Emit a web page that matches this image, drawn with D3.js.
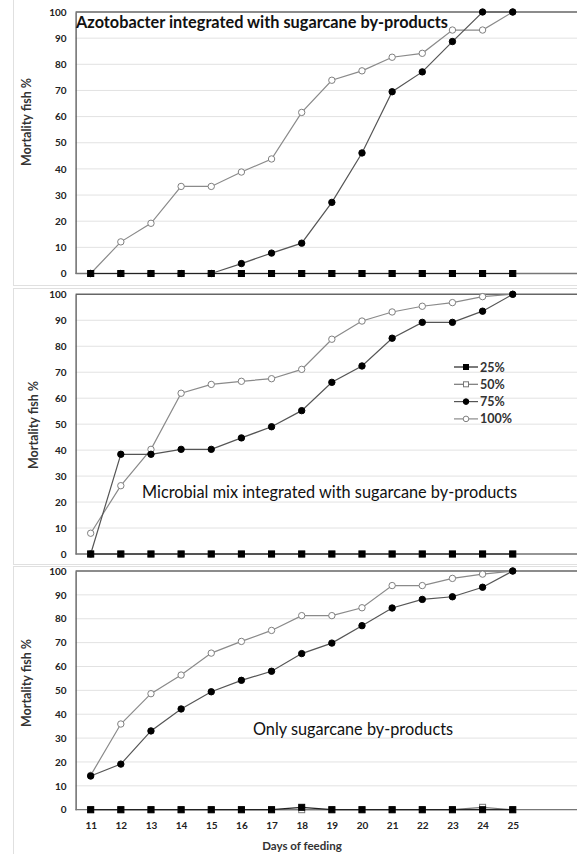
<!DOCTYPE html>
<html>
<head>
<meta charset="utf-8">
<script src="https://cdn.jsdelivr.net/npm/d3@7"></script>
<style>
  body { margin: 0; background: #fff; }
  svg { display: block; }
  .tick text { font-family: Lato, "Liberation Sans", sans-serif; font-weight: bold; font-size: 10px; fill: #222; }
</style>
</head>
<body>
<svg id="chart"></svg>
<script>

// days on the x axis
var days = [11, 12, 13, 14, 15, 16, 17, 18, 19, 20, 21, 22, 23, 24, 25];
var yTicks = [0, 10, 20, 30, 40, 50, 60, 70, 80, 90, 100];
var seriesNames = ["25%", "50%", "75%", "100%"];

// Azotobacter integrated with sugarcane by-products
var azo25  = [0, 0, 0, 0, 0, 0, 0, 0, 0, 0, 0, 0, 0, 0, 0];
var azo50  = [0, 0, 0, 0, 0, 0, 0, 0, 0, 0, 0, 0, 0, 0, 0];
var azo75  = [0, 0, 0, 0, 0, 3.8, 7.8, 11.6, 27.2, 46.1, 69.5, 77.1, 88.7, 100, 100];
var azo100 = [0, 12.1, 19.2, 33.3, 33.3, 38.8, 43.8, 61.6, 73.9, 77.5, 82.7, 84.2, 93.1, 93.1, 100];

// Microbial mix integrated with sugarcane by-products
var mix25  = [0, 0, 0, 0, 0, 0, 0, 0, 0, 0, 0, 0, 0, 0, 0];
var mix50  = [0, 0, 0, 0, 0, 0, 0, 0, 0, 0, 0, 0, 0, 0, 0];
var mix75  = [0, 38.4, 38.4, 40.3, 40.3, 44.7, 49.0, 55.2, 66.1, 72.4, 83.1, 89.2, 89.2, 93.5, 100];
var mix100 = [8.0, 26.3, 40.3, 61.9, 65.3, 66.5, 67.5, 71.1, 82.7, 89.7, 93.2, 95.4, 96.8, 99.1, 100];

// Only sugarcane by-products
var only25  = [0, 0, 0, 0, 0, 0, 0, 1, 0, 0, 0, 0, 0, 0, 0];
var only50  = [0, 0, 0, 0, 0, 0, 0, 0, 0, 0, 0, 0, 0, 1, 0];
var only75  = [14.1, 19.1, 33.0, 42.2, 49.4, 54.2, 58.0, 65.4, 69.8, 77.1, 84.5, 88.1, 89.2, 93.2, 100];
var only100 = [14.4, 35.9, 48.6, 56.4, 65.6, 70.5, 75.1, 81.3, 81.3, 84.6, 93.9, 93.9, 96.9, 98.7, 100];

var titles = ["Azotobacter integrated with sugarcane by-products",
              "Microbial mix integrated with sugarcane by-products",
              "Only sugarcane by-products"];

var W = 577, H = 854;
var svg = d3.select("#chart").attr("width", W).attr("height", H);

var x = d3.scaleLinear().domain([10.5, 25.5]).range([75.6, 527.8]);

// layout of the three stacked panels
var panels = [
  {top: 12,  bottom: 273.5, data: [azo25, azo50, azo75, azo100],
   title: {x: 76, y: 28, anchor: "start"}, ytitle: {x: 31, y: 122}, boxTop: -1, boxBottom: 285},
  {top: 294.3, bottom: 554, data: [mix25, mix50, mix75, mix100],
   title: {x: 517, y: 498, anchor: "end"}, ytitle: {x: 38, y: 425}, boxTop: 288, boxBottom: 564},
  {top: 571, bottom: 809.7, data: [only25, only50, only75, only100],
   title: {x: 353, y: 735, anchor: "middle"}, ytitle: {x: 31, y: 683}, boxTop: 566, boxBottom: 860}
];

var styles = [
  {line: "#222", shape: "square", fill: "#000", stroke: "#000"},
  {line: "#777", shape: "square", fill: "#fff", stroke: "#777"},
  {line: "#555", shape: "circle", fill: "#000", stroke: "#000"},
  {line: "#8a8a8a", shape: "circle", fill: "#fff", stroke: "#808080"}
];

panels.forEach(function (p, pi) {
  var g = svg.append("g");

  // chart area frame
  g.append("rect")
    .attr("x", 13.5).attr("y", p.boxTop + 0.5)
    .attr("width", W).attr("height", p.boxBottom - p.boxTop)
    .attr("fill", "#fff").attr("stroke", "#e0e0e0");

  var y = d3.scaleLinear().domain([0, 100]).range([p.bottom, p.top]);

  // gridlines
  g.append("g").selectAll("line").data(yTicks).enter().append("line")
    .attr("x1", x.range()[0]).attr("x2", W)
    .attr("y1", function (d) { return y(d); }).attr("y2", function (d) { return y(d); })
    .attr("stroke", function (d) { return d == 100 ? "#666" : "#e2e2e2"; })
    .attr("stroke-width", function (d) { return d == 100 ? 1.4 : 1; });

  var yAxis = g.append("g")
    .attr("transform", "translate(" + x.range()[0] + ",0)")
    .call(d3.axisLeft(y).tickValues(yTicks).tickSize(0).tickPadding(9));
  yAxis.select(".domain").attr("stroke", "#555").attr("stroke-width", 1.3);

  // x axis line
  g.append("line")
    .attr("x1", x.range()[0]).attr("x2", W)
    .attr("y1", y(0)).attr("y2", y(0))
    .attr("stroke", "#777").attr("stroke-width", 1.3);

  if (pi == 2) {
    var xAxis = g.append("g")
      .attr("transform", "translate(0," + y(0) + ")")
      .call(d3.axisBottom(x).tickValues(days).tickFormat(d3.format("d")).tickSize(0).tickPadding(12));
    xAxis.select(".domain").remove();

    g.append("text")
      .attr("x", 302).attr("y", 850)
      .attr("text-anchor", "middle")
      .style("font-family", "Lato, 'Liberation Sans', sans-serif")
      .style("font-weight", "bold").style("font-size", "11.5px").style("fill", "#333")
      .text("Days of feeding");
  }

  // y title
  g.append("text")
    .attr("transform", "translate(" + p.ytitle.x + "," + p.ytitle.y + ") rotate(-90)")
    .attr("text-anchor", "middle")
    .style("font-family", "Lato, 'Liberation Sans', sans-serif")
    .style("font-weight", "bold").style("font-size", "12.5px").style("fill", "#333")
    .text("Mortality fish %");

  // series: draw 100% first so squares end up on top
  var order = [3, 2, 1, 0];
  order.forEach(function (si) {
    var vals = p.data[si];
    var st = styles[si];
    var line = d3.line()
      .x(function (d, i) { return x(days[i]); })
      .y(function (d) { return y(d); });
    g.append("path").datum(vals)
      .attr("d", line).attr("fill", "none")
      .attr("stroke", st.line).attr("stroke-width", 1.2);

    if (st.shape == "circle") {
      g.append("g").selectAll("circle").data(vals).enter().append("circle")
        .attr("cx", function (d, i) { return x(days[i]); })
        .attr("cy", function (d) { return y(d); })
        .attr("r", 3.2)
        .attr("fill", st.fill).attr("stroke", st.stroke).attr("stroke-width", 1);
    } else {
      g.append("g").selectAll("rect").data(vals).enter().append("rect")
        .attr("x", function (d, i) { return x(days[i]) - 3; })
        .attr("y", function (d) { return y(d) - 3; })
        .attr("width", 6).attr("height", 6)
        .attr("fill", st.fill).attr("stroke", st.stroke).attr("stroke-width", 1);
    }
  });

  // panel title
  g.append("text")
    .attr("x", p.title.x).attr("y", p.title.y)
    .attr("text-anchor", p.title.anchor)
    .style("font-family", "Lato, 'Liberation Sans', sans-serif")
    .style("font-size", "16.3px").style("fill", "#111")
    .style("font-weight", pi == 0 ? "bold" : "normal")
    .text(titles[pi]);

  // legend only in the middle panel
  if (pi == 1) {
    var leg = g.append("g").attr("transform", "translate(454,367)");
    seriesNames.forEach(function (name, si) {
      var st = styles[si];
      var row = leg.append("g").attr("transform", "translate(0," + (si * 17.3) + ")");
      row.append("line").attr("x1", 0).attr("x2", 24).attr("y1", 0).attr("y2", 0)
        .attr("stroke", st.line).attr("stroke-width", 1.2);
      if (st.shape == "circle") {
        row.append("circle").attr("cx", 12).attr("cy", 0).attr("r", 2.8)
          .attr("fill", st.fill).attr("stroke", st.stroke);
      } else {
        row.append("rect").attr("x", 9.5).attr("y", -2.5).attr("width", 5).attr("height", 5)
          .attr("fill", st.fill).attr("stroke", st.stroke);
      }
      row.append("text").attr("x", 26).attr("y", 4.5)
        .style("font-family", "Lato, 'Liberation Sans', sans-serif")
        .style("font-weight", "bold").style("font-size", "12.5px").style("fill", "#333")
        .text(name);
    });
  }
});
</script>
</body>
</html>
